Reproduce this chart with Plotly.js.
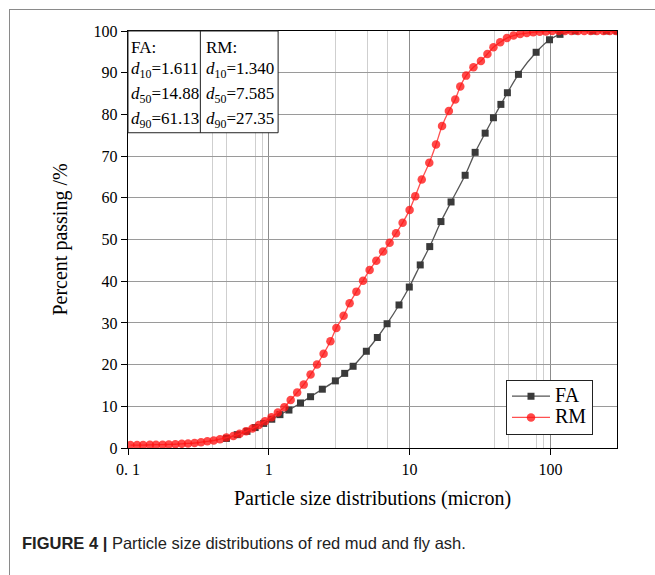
<!DOCTYPE html>
<html>
<head>
<meta charset="utf-8">
<script src="https://cdn.plot.ly/plotly-3.0.1.min.js"></script>
<style>
  html, body { margin: 0; padding: 0; background: #ffffff; }
  #chart { width: 655px; height: 575px; position: absolute; left: 0; top: 0; }
  #frame { position: absolute; left: 9px; top: 9px; width: 646px; height: 566px;
           border-left: 1px solid #8a8a8a; border-top: 1px solid #8a8a8a; pointer-events: none; }
</style>
</head>
<body>
<div id="chart"></div>
<div id="frame"></div>
<script>
// ---- Data ----
const seriesNames = ["FA", "RM"];

const faSize = [0.5, 0.597, 0.70, 0.80, 0.92, 1.05, 1.2, 1.39, 1.68, 1.98, 2.4, 2.97, 3.46, 3.97, 4.93, 5.9, 6.92, 8.41,
  9.95, 11.9, 13.9, 16.7, 19.7, 24.8, 29.2, 34.4, 39.4, 44.5, 49.5, 59.3, 79.2, 98.5, 117, 150, 200, 250, 297];
const faPassing = [2.3, 3.2, 4.0, 4.9, 5.9, 6.9, 8.0, 9.1, 10.8, 12.3, 14.1, 16.1, 17.9, 19.6, 23.2, 26.5, 29.8, 34.3,
  38.6, 43.9, 48.3, 54.3, 59.0, 65.4, 70.9, 75.5, 79.2, 82.4, 85.2, 89.6, 94.9, 97.9, 99.2, 100, 100, 100, 100];

const rmSize = [0.104, 0.116, 0.128, 0.143, 0.158, 0.176, 0.195, 0.217, 0.241, 0.267,
  0.297, 0.33, 0.366, 0.406, 0.45, 0.50, 0.56, 0.62, 0.69, 0.765,
  0.85, 0.94, 1.045, 1.16, 1.29, 1.43, 1.59, 1.77, 1.98, 2.20,
  2.45, 2.74, 3.02, 3.40, 3.75, 4.19, 4.67, 5.20, 5.80, 6.48,
  7.21, 8.01, 8.92, 10.0, 10.97, 12.2, 13.8, 15.4, 17.0, 19.0,
  21.1, 22.9, 25.2, 28.4, 32.1, 35.7, 39.4, 44.0, 49.1, 54.7,
  61.0, 68.0, 75.5, 84, 93, 103, 115, 127, 141, 157,
  174, 193, 214, 238, 264, 293];
const rmPassing = [0.7, 0.7, 0.7, 0.75, 0.8, 0.8, 0.85, 0.9, 1.0, 1.1,
  1.2, 1.4, 1.6, 1.8, 2.1, 2.5, 2.9, 3.4, 4.0, 4.7,
  5.5, 6.4, 7.4, 8.5, 9.8, 11.5, 13.3, 15.2, 17.6, 20.0,
  22.6, 25.6, 28.8, 31.7, 34.7, 37.5, 40.1, 42.7, 44.9, 47.1,
  49.2, 51.5, 54.0, 57.1, 60.4, 64.4, 68.4, 72.8, 77.2, 80.8,
  83.6, 86.7, 89.3, 91.3, 92.8, 94.5, 96.1, 97.3, 98.3, 98.9,
  99.3, 99.5, 99.7, 99.8, 99.9, 100, 100, 100, 100, 100,
  100, 100, 100, 100, 100, 100];

const xTickVals = [0.1, 1, 10, 100];
const xTickText = ["0. 1", "1", "10", "100"];
const xMinorVals = [0.4, 0.5, 0.8, 0.9, 3, 5, 7, 40, 50, 80, 90];
const yTickVals = [0, 10, 20, 30, 40, 50, 60, 70, 80, 90, 100];

const faStats = ["FA:", "<i>d</i><sub>10</sub>=1.611", "<i>d</i><sub>50</sub>=14.88", "<i>d</i><sub>90</sub>=61.13"];
const rmStats = ["RM:", "<i>d</i><sub>10</sub>=1.340", "<i>d</i><sub>50</sub>=7.585", "<i>d</i><sub>90</sub>=27.35"];

const xTitle = "Particle size distributions (micron)";
const yTitle = "Percent passing /%";
const caption = "<b>FIGURE 4 |</b> Particle size distributions of red mud and fly ash.";

// ---- Figure ----
const serif = "Liberation Serif, Times New Roman, serif";

const traces = [
  {
    x: faSize, y: faPassing, name: '<span style="font-size:20px">' + seriesNames[0] + '</span>',
    type: "scatter", mode: "lines+markers",
    line: { color: "#555555", width: 1.3, shape: "spline", smoothing: 0.6 },
    marker: { symbol: "square", size: 7, color: "#3a3a3a" }
  },
  {
    x: rmSize, y: rmPassing, name: '<span style="font-size:20px">' + seriesNames[1] + '</span>',
    type: "scatter", mode: "lines+markers",
    line: { color: "#ff5050", width: 1.3, shape: "spline", smoothing: 0.6 },
    marker: { symbol: "circle", size: 8.5, color: "rgba(255,20,20,0.78)" }
  }
];

const annotations = [];
const rowY = [0.961, 0.9055, 0.8465, 0.7865];
faStats.forEach((t, i) => annotations.push({
  xref: "paper", yref: "paper", x: 0.002, y: rowY[i], xanchor: "left", yanchor: "middle",
  text: t, showarrow: false, font: { family: serif, size: 17, color: "#000" }
}));
rmStats.forEach((t, i) => annotations.push({
  xref: "paper", yref: "paper", x: 0.155, y: rowY[i], xanchor: "left", yanchor: "middle",
  text: t, showarrow: false, font: { family: serif, size: 17, color: "#000" }
}));
annotations.push({
  xref: "paper", yref: "paper", x: -0.221, y: -0.229, xanchor: "left", yanchor: "middle",
  text: caption, showarrow: false, font: { family: "Liberation Sans, Arial, sans-serif", size: 16.5, color: "#222" }
});

const layout = {
  width: 655, height: 575,
  margin: { l: 128, r: 38, t: 31, b: 126.5 },
  paper_bgcolor: "rgba(0,0,0,0)", plot_bgcolor: "#ffffff",
  font: { family: serif, color: "#000" },
  showlegend: true,
  legend: {
    x: 0.773, y: 0.164, xanchor: "left", yanchor: "top",
    bgcolor: "#ffffff", bordercolor: "#222", borderwidth: 1,
    itemwidth: 38, tracegroupgap: 0,
    font: { family: serif, size: 14, color: "#000" }
  },
  xaxis: {
    type: "log", range: [-1, 2.473],
    tickmode: "array", tickvals: xTickVals, ticktext: xTickText,
    ticks: "outside", ticklen: 6, tickcolor: "#000", tickwidth: 1,
    tickfont: { family: serif, size: 16, color: "#000" },
    showline: true, linecolor: "#000", linewidth: 1.3, mirror: true,
    showgrid: true, gridcolor: "#8c8c8c", gridwidth: 1,
    minor: { tickmode: "array", tickvals: xMinorVals, ticks: "", showgrid: true, gridcolor: "#cfcfcf", gridwidth: 1 },
    zeroline: false,
    title: { text: xTitle, font: { family: serif, size: 20, color: "#000" }, standoff: 14 }
  },
  yaxis: {
    range: [0, 100], tickmode: "array", tickvals: yTickVals,
    ticks: "outside", ticklen: 6, tickcolor: "#000", tickwidth: 1,
    tickfont: { family: serif, size: 16, color: "#000" },
    showline: true, linecolor: "#000", linewidth: 1.3, mirror: true,
    showgrid: true, gridcolor: "#9a9a9a", gridwidth: 1,
    zeroline: false,
    title: { text: yTitle, font: { family: serif, size: 20, color: "#000" }, standoff: 20 }
  },
  shapes: [
    { type: "rect", xref: "paper", yref: "paper", x0: 0, x1: 0.307, y0: 0.756, y1: 1,
      line: { color: "#222", width: 1 }, fillcolor: "#ffffff", layer: "above" },
    { type: "line", xref: "paper", yref: "paper", x0: 0.148, x1: 0.148, y0: 0.756, y1: 1,
      line: { color: "#222", width: 1 }, layer: "above" }
  ],
  annotations: annotations
};

Plotly.newPlot("chart", traces, layout, { displayModeBar: false, staticPlot: true });
</script>
</body>
</html>
